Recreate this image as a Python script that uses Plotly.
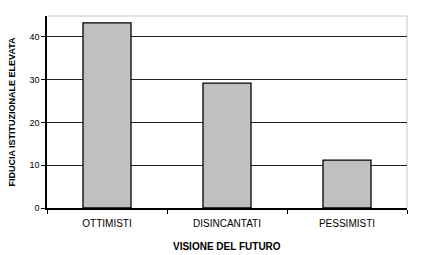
import plotly.graph_objects as go

categories = ["OTTIMISTI", "DISINCANTATI", "PESSIMISTI"]
values = [43.3, 29.2, 11.2]
y_ticks = [0, 10, 20, 30, 40]

fig = go.Figure()
fig.add_trace(go.Bar(
    x=categories, y=values, width=0.4,
    marker=dict(color="#c0c0c0", line=dict(color="black", width=1.3)),
))

font = "Liberation Sans, Arial, sans-serif"
fig.update_layout(
    width=430, height=255,
    margin=dict(l=47, r=23, t=16, b=47),
    paper_bgcolor="white", plot_bgcolor="white",
    showlegend=False,
    font=dict(family=font, size=10, color="black"),
    xaxis=dict(
        type="category", tickson="boundaries", ticks="outside", ticklen=4,
        tickcolor="black", showline=True, linecolor="black", linewidth=1.5,
        showgrid=False, tickfont=dict(size=10), ticklabelstandoff=5,
        automargin=False,
    ),
    yaxis=dict(
        range=[0, 44.9], tickvals=y_ticks, ticks="outside", ticklen=4,
        tickcolor="black", showline=True, linecolor="black", linewidth=1.5,
        showgrid=True, gridcolor="#222222", gridwidth=1, zeroline=False,
        tickfont=dict(size=9), automargin=False,
        title=dict(text="<b>FIDUCIA ISTITUZIONALE ELEVATA</b>", font=dict(size=9), standoff=12),
    ),
    annotations=[
        dict(text="<b>VISIONE DEL FUTURO</b>", xref="paper", yref="paper",
             x=0.5, y=-38 / 192, xanchor="center", yanchor="middle",
             showarrow=False, font=dict(size=10)),
    ],
    shapes=[
        dict(type="line", xref="paper", yref="paper", x0=0, x1=1, y0=1, y1=1,
             line=dict(color="#c8c8c8", width=1), layer="below"),
        dict(type="line", xref="paper", yref="paper", x0=1, x1=1, y0=0, y1=1,
             line=dict(color="#c8c8c8", width=1), layer="below"),
    ],
)
fig.write_html("out.html")
